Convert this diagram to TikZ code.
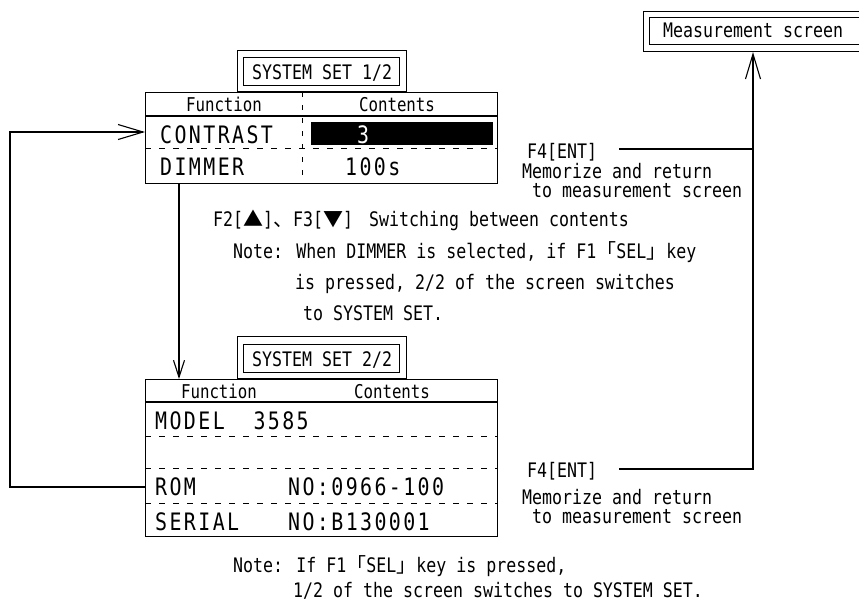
\documentclass[tikz,border=0pt]{standalone}
\usepackage{fontspec}
\usetikzlibrary{arrows.meta,calc}
\newfontfamily\smono[FakeStretch=0.83]{DejaVu Sans Mono}
\newfontfamily\bmono[FakeStretch=0.83,LetterSpace=10]{DejaVu Sans Mono}
\newfontfamily\cjk{Noto Sans CJK JP}
\tikzset{
  smalltxt/.style={font=\smono\fontsize{20}{24}\selectfont, inner sep=0pt, anchor=base west},
  bigtxt/.style={font=\bmono\fontsize{24}{28}\selectfont, inner sep=0pt, anchor=base west},
  hdrtxt/.style={font=\smono\fontsize{19}{22}\selectfont, inner sep=0pt, anchor=base},
  boxnode/.style={draw, line width=1.1pt, inner sep=0pt, anchor=north west},
  dsh/.style={line width=1pt, dash pattern=on 6pt off 8pt},
  vdsh/.style={line width=1pt, dash pattern=on 5pt off 8pt},
  arr/.style={line width=1.1pt, -{Straight Barb[length=25pt,width=15pt]}},
  arrd/.style={line width=1.1pt, -{Straight Barb[length=17pt,width=11pt]}},
  conn/.style={line width=1.1pt}
}
\begin{document}
\begin{tikzpicture}[x=1pt,y=-1pt]
\clip (0,0) rectangle (859,603);
\fill[white] (0,0) rectangle (859,603);

% ---------- top table ----------
\node[boxnode, minimum width=352pt, minimum height=91pt] (t1) at (145,92) {};
\node[boxnode, anchor=south west, minimum width=169pt, minimum height=41pt] (h1o) at (237,92) {};
\node[boxnode, minimum width=156pt, minimum height=28pt] (h1i) at (243,57) {};
\node[smalltxt] (h1t) at (252,79) {SYSTEM SET 1/2};
\draw[conn] (145,116) -- (497,116);
\draw[dsh] (145,148) -- (497,148);
\draw[vdsh] (302,92) -- (302,183);
\node[hdrtxt] (f1) at (224,111) {Function};
\node[hdrtxt] (c1) at (397,111) {Contents};
\node[fill=black, inner sep=0pt, anchor=north west, minimum width=182pt, minimum height=23pt] (bar) at (311,122) {};
\node[bigtxt] (contrast) at (160,143) {CONTRAST};
\node[bigtxt, anchor=base, text=white] (v3) at (363,143) {3};
\node[bigtxt] (dimmer) at (160,175) {DIMMER};
\node[bigtxt] (v100) at (345,175) {100s};

% ---------- bottom table ----------
\node[boxnode, minimum width=352pt, minimum height=157pt] (t2) at (145,379) {};
\node[boxnode, anchor=south west, minimum width=169pt, minimum height=42pt] (h2o) at (237,379) {};
\node[boxnode, minimum width=156pt, minimum height=28pt] (h2i) at (243,344) {};
\node[smalltxt] (h2t) at (252,366) {SYSTEM SET 2/2};
\draw[conn] (145,402) -- (497,402);
\draw[dsh] (145,436) -- (497,436);
\draw[dsh] (145,468) -- (497,468);
\draw[dsh] (145,503) -- (497,503);
\node[hdrtxt] (f2) at (219,398) {Function};
\node[hdrtxt] (c2) at (392,398) {Contents};
\node[bigtxt] (model) at (155,429) {MODEL\ \ 3585};
\node[bigtxt] (rom) at (155,495) {ROM};
\node[bigtxt] (romv) at (288,495) {NO:0966-100};
\node[bigtxt] (serial) at (155,530) {SERIAL};
\node[bigtxt] (serialv) at (288,530) {NO:B130001};

% ---------- measurement screen ----------
\node[boxnode, minimum width=230pt, minimum height=40pt] (meas) at (643,11) {};
\node[boxnode, minimum width=220pt, minimum height=27pt] (measi) at (649,17) {};
\node[smalltxt] (meast) at (663,37) {Measurement screen};

% ---------- texts ----------
\node[smalltxt] (keys) at (213,226) {F2[{\cjk ▲}]{\cjk 、}F3[{\cjk ▼}]\hspace{16pt}Switching between contents};
\node[smalltxt] (n1a) at (233,258) {Note: When DIMMER is selected, if F1{\cjk 「}SEL{\cjk 」}key};
\node[smalltxt] (n1b) at (295,289) {is pressed, 2/2 of the screen switches};
\node[smalltxt] (n1c) at (303,320) {to SYSTEM SET.};

\node[smalltxt] (f4a) at (527,158) {F4[ENT]};
\node[smalltxt] (m1a) at (522,178) {Memorize and return};
\node[smalltxt] (m1b) at (532,197) {to measurement screen};

\node[smalltxt] (f4b) at (527,477) {F4[ENT]};
\node[smalltxt] (m2a) at (522,504) {Memorize and return};
\node[smalltxt] (m2b) at (532,523) {to measurement screen};

\node[smalltxt] (n2a) at (233,572) {Note: If F1{\cjk 「}SEL{\cjk 」}key is pressed,};
\node[smalltxt] (n2b) at (293,597) {1/2 of the screen switches to SYSTEM SET.};

% ---------- connectors ----------
\draw[arr] ($(t2.north west)+(0,108)$) -- ++(-135,0) |- ($(t1.north west)+(0,40)$);
\draw[arrd] ($(t1.south west)+(34,0)$) -- ($(t2.north west)+(34,0)$);
\coordinate (e1) at (619,149);
\coordinate (e2) at (619,469);
\coordinate (vl) at (753,469);
\draw[conn] (e1) -- (e1 -| vl);
\draw[arr] (e2) -- (vl) -- (vl |- meas.south);
\end{tikzpicture}
\end{document}
